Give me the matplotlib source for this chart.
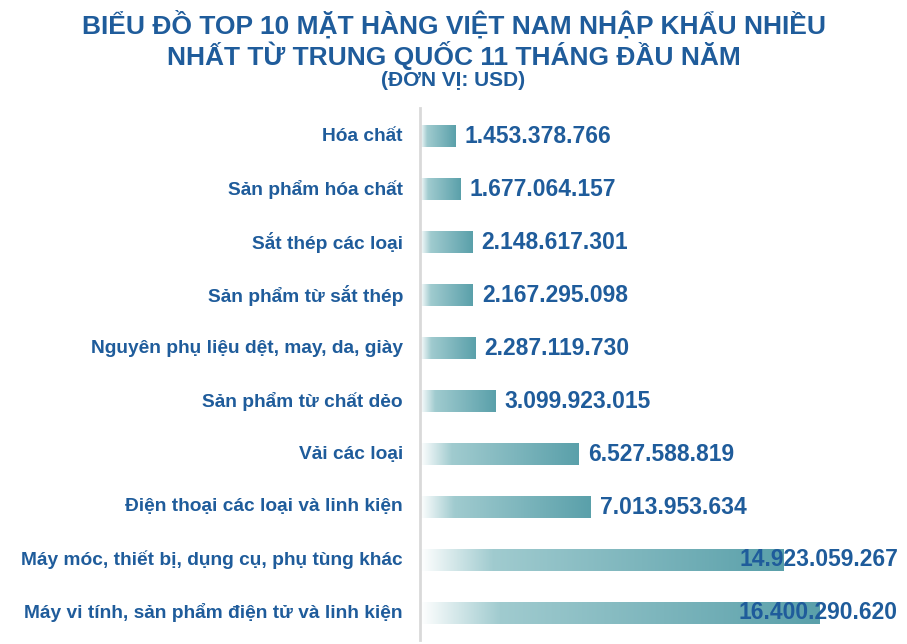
import matplotlib.pyplot as plt
import numpy as np
from matplotlib.colors import LinearSegmentedColormap

# bottom to top
categories = [
    "Máy vi tính, sản phẩm điện tử và linh kiện",
    "Máy móc, thiết bị, dụng cụ, phụ tùng khác",
    "Điện thoại các loại và linh kiện",
    "Vải các loại",
    "Sản phẩm từ chất dẻo",
    "Nguyên phụ liệu dệt, may, da, giày",
    "Sản phẩm từ sắt thép",
    "Sắt thép các loại",
    "Sản phẩm hóa chất",
    "Hóa chất",
]
values = [16400290620, 14923059267, 7013953634, 6527588819, 3099923015,
          2287119730, 2167295098, 2148617301, 1677064157, 1453378766]

title_lines = ["BIỂU ĐỒ TOP 10 MẶT HÀNG VIỆT NAM NHẬP KHẨU NHIỀU",
               "NHẤT TỪ TRUNG QUỐC 11 THÁNG ĐẦU NĂM"]
subtitle = "(ĐƠN VỊ: USD)"

TEXT = "#1f5c9b"
W, H = 907, 644
plt.rcParams["font.family"] = ["Liberation Sans", "DejaVu Sans"]

fig = plt.figure(figsize=(W / 100, H / 100), dpi=100)
ax = fig.add_axes([420 / W, 4 / H, 487 / W, 532 / H])

cmap = LinearSegmentedColormap.from_list(
    "bar", [(0, "#ffffff"), (0.2, "#a0cbcf"), (1, "#5aa0aa")])
grad = np.linspace(0, 1, 256).reshape(1, -1)
bh = 0.4

def fmt(v):
    return f"{v:,}".replace(",", ".")

labels = []
for i, (cat, v) in enumerate(zip(categories, values)):
    ax.imshow(grad, cmap=cmap, aspect="auto", interpolation="bilinear",
              extent=(0, v, i - bh / 2, i + bh / 2), zorder=2)
    t = ax.annotate(fmt(v), xy=(v, i), xytext=(9, 0), textcoords="offset pixels",
                    ha="left", va="center", fontsize=16.5, fontweight="bold",
                    color=TEXT, zorder=3)
    labels.append(t)
    ax.text(-17 / 487 * 20e9, i, cat, ha="right", va="center", fontsize=13.8,
            fontweight="bold", color=TEXT)

ax.set_xlim(0, 20e9)
ax.set_ylim(-0.51, len(values) - 1 + 0.53)

# clamp labels that run past the right edge
fig.canvas.draw()
r = fig.canvas.get_renderer()
xmax_px = 898
for i, (t, v) in enumerate(zip(labels, values)):
    bb = t.get_window_extent(r)
    if bb.x1 > xmax_px:
        t.set_position((xmax_px - ax.transData.transform((v, i))[0], 0))
        t.set_ha("right")

for s in ["top", "right", "bottom"]:
    ax.spines[s].set_visible(False)
ax.spines["left"].set_color("#d9d9d9")
ax.spines["left"].set_linewidth(2)
ax.set_xticks([])
ax.set_yticks([])
ax.patch.set_alpha(0)

fig.text(0.5, 1 - 24 / H, title_lines[0], ha="center", va="center",
         fontsize=19, fontweight="bold", color=TEXT)
fig.text(0.5, 1 - 55 / H, title_lines[1], ha="center", va="center",
         fontsize=19, fontweight="bold", color=TEXT)
fig.text(0.5, 1 - 81 / H, subtitle, ha="center", va="center",
         fontsize=15, fontweight="bold", color=TEXT)

fig.savefig("out.png", dpi=100)
